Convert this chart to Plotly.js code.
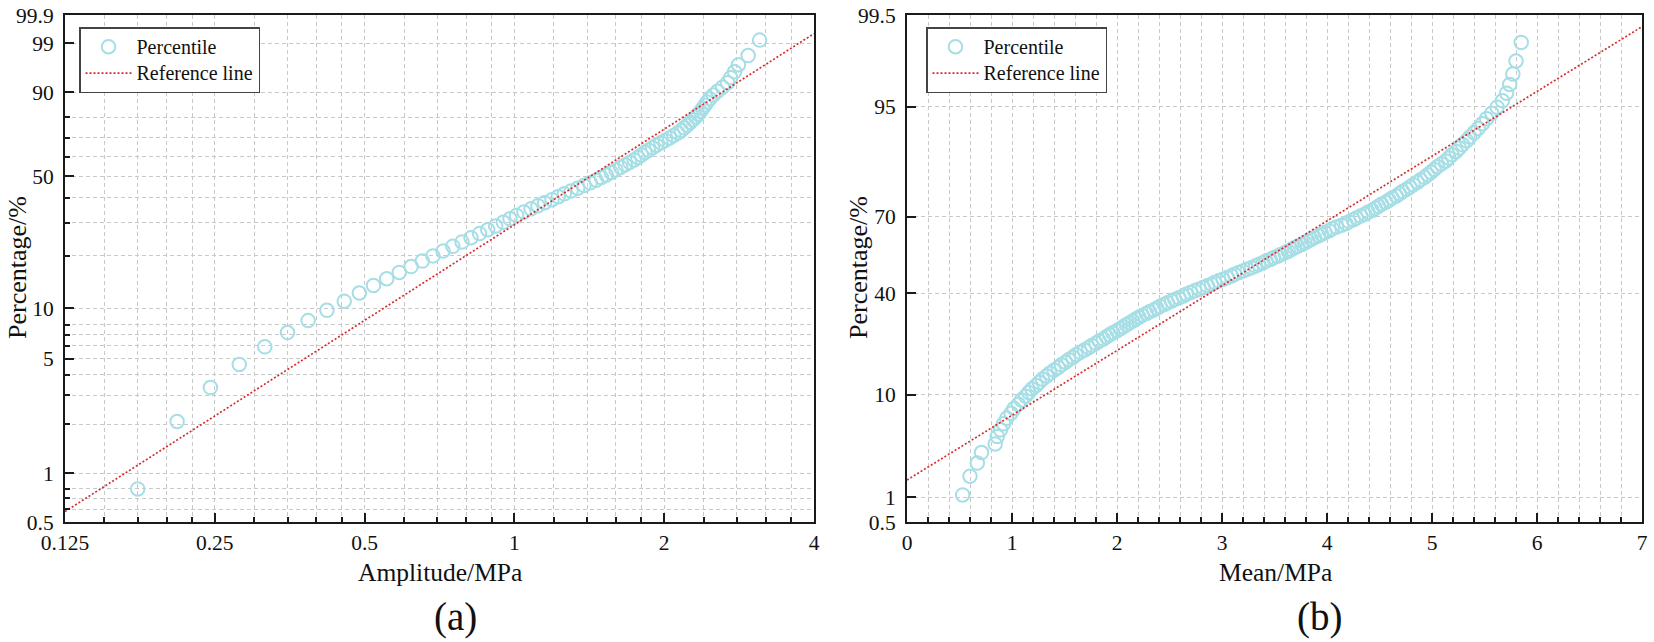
<!DOCTYPE html>
<html>
<head>
<meta charset="utf-8">
<script src="https://cdn.plot.ly/plotly-3.0.1.min.js"></script>
<style>
  html, body { margin: 0; padding: 0; background: #ffffff; font-family: 'Liberation Serif', serif; }
  #chart { width: 1654px; height: 642px; }
</style>
</head>
<body>
<div id="chart"></div>
<script>
// ---------------- data: panel (a) amplitude ----------------
const ampX = [0.175, 0.210, 0.245, 0.280, 0.315, 0.350, 0.385, 0.420, 0.455, 0.488,
  0.521, 0.554, 0.587, 0.620, 0.653, 0.686, 0.719, 0.752, 0.785, 0.818,
  0.851, 0.884, 0.917, 0.950, 0.980, 1.010, 1.045, 1.080, 1.115, 1.150,
  1.190, 1.225, 1.260, 1.300, 1.340, 1.380, 1.420, 1.460, 1.495, 1.530,
  1.565, 1.600, 1.635, 1.670, 1.705, 1.740, 1.770, 1.800, 1.830, 1.860,
  1.895, 1.930, 1.970, 2.010, 2.050, 2.090, 2.130, 2.165, 2.195, 2.225,
  2.255, 2.285, 2.315, 2.340, 2.365, 2.390, 2.415, 2.440, 2.470, 2.510,
  2.560, 2.620, 2.680, 2.720, 2.770, 2.820, 2.950, 3.110];
const ampP = [0.80, 2.08, 3.35, 4.63, 5.91, 7.19, 8.47, 9.74, 11.02, 12.30,
  13.58, 14.86, 16.13, 17.41, 18.69, 19.97, 21.25, 22.52, 23.80, 25.08,
  26.36, 27.64, 28.91, 30.19, 31.47, 32.75, 34.03, 35.30, 36.58, 37.86,
  39.14, 40.42, 41.69, 42.97, 44.25, 45.53, 46.81, 48.08, 49.36, 50.64,
  51.92, 53.19, 54.47, 55.75, 57.03, 58.31, 59.58, 60.86, 62.14, 63.42,
  64.70, 65.97, 67.25, 68.53, 69.81, 71.09, 72.36, 73.64, 74.92, 76.20,
  77.48, 78.75, 80.03, 81.31, 82.59, 83.87, 85.14, 86.42, 87.70, 88.98,
  90.26, 91.53, 92.81, 94.09, 95.37, 96.65, 97.92, 99.20];
const refAmpX = [0.125, 4];
const refAmpP = [0.58, 99.5];

// ---------------- data: panel (b) mean ----------------
const meanX = [0.53, 0.60, 0.67, 0.71, 0.84, 0.86, 0.89, 0.92, 0.95, 0.99,
  1.02, 1.06, 1.09, 1.13, 1.16, 1.19, 1.23, 1.26, 1.29, 1.33,
  1.36, 1.40, 1.44, 1.47, 1.51, 1.54, 1.58, 1.61, 1.65, 1.69,
  1.73, 1.76, 1.80, 1.83, 1.87, 1.90, 1.93, 1.96, 2.00, 2.03,
  2.06, 2.09, 2.12, 2.15, 2.18, 2.21, 2.24, 2.28, 2.31, 2.35,
  2.38, 2.41, 2.45, 2.48, 2.52, 2.55, 2.59, 2.63, 2.66, 2.70,
  2.74, 2.78, 2.82, 2.86, 2.90, 2.93, 2.97, 3.01, 3.05, 3.09,
  3.12, 3.16, 3.20, 3.24, 3.28, 3.32, 3.35, 3.39, 3.42, 3.46,
  3.49, 3.53, 3.56, 3.60, 3.63, 3.66, 3.69, 3.72, 3.76, 3.79,
  3.82, 3.85, 3.88, 3.92, 3.95, 3.98, 4.02, 4.05, 4.09, 4.14,
  4.18, 4.21, 4.25, 4.28, 4.32, 4.36, 4.39, 4.43, 4.46, 4.49,
  4.52, 4.56, 4.59, 4.62, 4.66, 4.69, 4.72, 4.76, 4.79, 4.82,
  4.86, 4.89, 4.93, 4.96, 4.99, 5.02, 5.05, 5.09, 5.13, 5.16,
  5.19, 5.23, 5.26, 5.29, 5.33, 5.36, 5.40, 5.44, 5.48, 5.52,
  5.57, 5.62, 5.67, 5.71, 5.74, 5.77, 5.80, 5.85];
const meanP = [1.07, 1.74, 2.40, 3.07, 3.73, 4.40, 5.06, 5.73, 6.40, 7.06,
  7.73, 8.39, 9.06, 9.72, 10.39, 11.06, 11.72, 12.39, 13.05, 13.72,
  14.38, 15.05, 15.71, 16.38, 17.05, 17.71, 18.38, 19.04, 19.71, 20.37,
  21.04, 21.71, 22.37, 23.04, 23.70, 24.37, 25.03, 25.70, 26.37, 27.03,
  27.70, 28.36, 29.03, 29.69, 30.36, 31.02, 31.69, 32.36, 33.02, 33.69,
  34.35, 35.02, 35.68, 36.35, 37.02, 37.68, 38.35, 39.01, 39.68, 40.34,
  41.01, 41.68, 42.34, 43.01, 43.67, 44.34, 45.00, 45.67, 46.33, 47.00,
  47.67, 48.33, 49.00, 49.66, 50.33, 50.99, 51.66, 52.33, 52.99, 53.66,
  54.32, 54.99, 55.65, 56.32, 56.99, 57.65, 58.32, 58.98, 59.65, 60.31,
  60.98, 61.64, 62.31, 62.98, 63.64, 64.31, 64.97, 65.64, 66.30, 66.97,
  67.64, 68.30, 68.97, 69.63, 70.30, 70.96, 71.63, 72.30, 72.96, 73.63,
  74.29, 74.96, 75.62, 76.29, 76.95, 77.62, 78.29, 78.95, 79.62, 80.28,
  80.95, 81.61, 82.28, 82.95, 83.61, 84.28, 84.94, 85.61, 86.27, 86.94,
  87.61, 88.27, 88.94, 89.60, 90.27, 90.93, 91.60, 92.26, 92.93, 93.60,
  94.26, 94.93, 95.59, 96.26, 96.92, 97.59, 98.25, 98.92];
const refMeanX = [0, 7];
const refMeanP = [1.58, 99.3];

// ---------------- ticks ----------------
const ampXTicks = [0.125, 0.25, 0.5, 1, 2, 4];
const ampXTickText = ['0.125', '0.25', '0.5', '1', '2', '4'];
const ampXMinor = [0.15, 0.175, 0.2, 0.225, 0.3, 0.35, 0.4, 0.45, 0.6, 0.7, 0.8, 0.9,
  1.2, 1.4, 1.6, 1.8, 2.4, 2.8, 3.2, 3.6];
const ampYTicks = [0.5, 1, 5, 10, 50, 90, 99, 99.9];
const ampYTickText = ['0.5', '1', '5', '10', '50', '90', '99', '99.9'];
const ampYMinor = [0.6, 0.7, 0.8, 2, 3, 4, 6, 7, 8, 20, 30, 40, 60, 70, 80];
const meanYTicks = [0.5, 1, 10, 40, 70, 95, 99.5];
const meanYTickText = ['0.5', '1', '10', '40', '70', '95', '99.5'];
const meanXTicks = [0, 1, 2, 3, 4, 5, 6, 7];

// ---------------- probability scale transforms ----------------
function weib(p) { return Math.log(-Math.log(1 - p / 100)); }
function normInv(pp) {
  const p = pp / 100;
  const a = [-3.969683028665376e+01, 2.209460984245205e+02, -2.759285104469687e+02, 1.383577518672690e+02, -3.066479806614716e+01, 2.506628277459239e+00];
  const b = [-5.447609879822406e+01, 1.615858368580409e+02, -1.556989798598866e+02, 6.680131188771972e+01, -1.328068155288572e+01];
  const c = [-7.784894002430293e-03, -3.223964580411365e-01, -2.400758277161838e+00, -2.549732518094239e+00, 4.374664141464968e+00, 2.938163982698783e+00];
  const d = [7.784695709041462e-03, 3.224671290700398e-01, 2.445134137142996e+00, 3.754408559630413e+00];
  const plow = 0.02425;
  let q, r;
  if (p < plow) {
    q = Math.sqrt(-2 * Math.log(p));
    return (((((c[0]*q+c[1])*q+c[2])*q+c[3])*q+c[4])*q+c[5]) / ((((d[0]*q+d[1])*q+d[2])*q+d[3])*q+1);
  } else if (p <= 1 - plow) {
    q = p - 0.5; r = q * q;
    return (((((a[0]*r+a[1])*r+a[2])*r+a[3])*r+a[4])*r+a[5])*q / (((((b[0]*r+b[1])*r+b[2])*r+b[3])*r+b[4])*r+1);
  } else {
    q = Math.sqrt(-2 * Math.log(1 - p));
    return -(((((c[0]*q+c[1])*q+c[2])*q+c[3])*q+c[4])*q+c[5]) / ((((d[0]*q+d[1])*q+d[2])*q+d[3])*q+1);
  }
}

// ---------------- styling ----------------
const FONT = 'Liberation Serif';
const W = 1654, H = 642;
const px = v => v / W;
const py = v => 1 - v / H;
const markerColor = 'rgb(166,222,230)';
const refColor = 'rgb(214,45,45)';
const gridColor = 'rgb(200,200,200)';
const legName = s => '<span style="font-size:20px">' + s + '</span>';

const traces = [
  { x: ampX, y: ampP.map(weib), xaxis: 'x', yaxis: 'y', type: 'scatter', mode: 'markers',
    name: legName('Percentile'), legend: 'legend',
    marker: { symbol: 'circle-open', size: 13.5, color: markerColor, line: { width: 2, color: markerColor } } },
  { x: refAmpX, y: refAmpP.map(weib), xaxis: 'x', yaxis: 'y', type: 'scatter', mode: 'lines',
    name: legName('Reference line'), legend: 'legend',
    line: { color: refColor, width: 1.7, dash: '2px,2px' } },
  { x: meanX, y: meanP.map(normInv), xaxis: 'x2', yaxis: 'y2', type: 'scatter', mode: 'markers',
    name: legName('Percentile'), legend: 'legend2',
    marker: { symbol: 'circle-open', size: 13.5, color: markerColor, line: { width: 2, color: markerColor } } },
  { x: refMeanX, y: refMeanP.map(normInv), xaxis: 'x2', yaxis: 'y2', type: 'scatter', mode: 'lines',
    name: legName('Reference line'), legend: 'legend2',
    line: { color: refColor, width: 1.7, dash: '2px,2px' } }
];

const axisBase = {
  showline: true, mirror: true, linecolor: '#1a1a1a', linewidth: 2,
  ticks: 'inside', ticklen: 9, tickwidth: 2, tickcolor: '#1a1a1a',
  showgrid: true, gridcolor: gridColor, gridwidth: 1, griddash: '4px,3px',
  zeroline: false, tickfont: { family: FONT, size: 21.5, color: '#111' },
  fixedrange: true
};

const layout = {
  width: W, height: H,
  margin: { l: 0, r: 0, t: 0, b: 0 },
  paper_bgcolor: '#ffffff', plot_bgcolor: '#ffffff',
  font: { family: FONT, color: '#111' },
  showlegend: true,
  xaxis: Object.assign({}, axisBase, {
    domain: [px(65), px(814)], anchor: 'y', type: 'log',
    range: [Math.log10(0.125), Math.log10(4)],
    tickmode: 'array', tickvals: ampXTicks, ticktext: ampXTickText,
    minor: { tickmode: 'array', tickvals: ampXMinor, ticks: 'inside', ticklen: 5, tickwidth: 2, tickcolor: '#1a1a1a',
             showgrid: true, gridcolor: gridColor, gridwidth: 1, griddash: '4px,3px' }
  }),
  yaxis: Object.assign({}, axisBase, {
    domain: [1 - 522 / H, 1 - 15 / H], anchor: 'x', ticklabelstandoff: 5,
    range: [weib(0.5), weib(99.9)],
    tickmode: 'array', tickvals: ampYTicks.map(weib), ticktext: ampYTickText,
    minor: { tickmode: 'array', tickvals: ampYMinor.map(weib), ticks: 'inside', ticklen: 5, tickwidth: 2, tickcolor: '#1a1a1a',
             showgrid: true, gridcolor: gridColor, gridwidth: 1, griddash: '4px,3px' }
  }),
  xaxis2: Object.assign({}, axisBase, {
    domain: [px(907), px(1642)], anchor: 'y2',
    range: [0, 7],
    tickmode: 'array', tickvals: meanXTicks, ticktext: meanXTicks.map(String),
    minor: { dtick: 0.2, ticks: 'inside', ticklen: 5, tickwidth: 2, tickcolor: '#1a1a1a',
             showgrid: true, gridcolor: gridColor, gridwidth: 1, griddash: '4px,3px' }
  }),
  yaxis2: Object.assign({}, axisBase, {
    domain: [1 - 522 / H, 1 - 15 / H], anchor: 'x2', ticklabelstandoff: 5,
    range: [normInv(0.5), normInv(99.5)],
    tickmode: 'array', tickvals: meanYTicks.map(normInv), ticktext: meanYTickText
  }),
  legend: {
    x: px(79), y: py(27), xanchor: 'left', yanchor: 'top',
    bgcolor: 'rgba(255,255,255,1)', bordercolor: '#444', borderwidth: 1.5,
    font: { family: FONT, size: 18, color: '#111' }, tracegroupgap: 0, itemwidth: 46
  },
  legend2: {
    x: px(926), y: py(27), xanchor: 'left', yanchor: 'top',
    bgcolor: 'rgba(255,255,255,1)', bordercolor: '#444', borderwidth: 1.5,
    font: { family: FONT, size: 18, color: '#111' }, tracegroupgap: 0, itemwidth: 46
  },
  annotations: [
    { text: 'Amplitude/MPa', xref: 'paper', yref: 'paper', x: px(440), y: py(572), xanchor: 'center', yanchor: 'middle',
      showarrow: false, font: { family: FONT, size: 25.5, color: '#111' } },
    { text: '(a)', xref: 'paper', yref: 'paper', x: px(455), y: py(617), xanchor: 'center', yanchor: 'middle',
      showarrow: false, font: { family: FONT, size: 39, color: '#111' } },
    { text: 'Mean/MPa', xref: 'paper', yref: 'paper', x: px(1275), y: py(572), xanchor: 'center', yanchor: 'middle',
      showarrow: false, font: { family: FONT, size: 25.5, color: '#111' } },
    { text: '(b)', xref: 'paper', yref: 'paper', x: px(1319), y: py(617), xanchor: 'center', yanchor: 'middle',
      showarrow: false, font: { family: FONT, size: 39, color: '#111' } },
    { text: 'Percentage/%', xref: 'paper', yref: 'paper', x: px(17), y: py(268), xanchor: 'center', yanchor: 'middle',
      textangle: -90, showarrow: false, font: { family: FONT, size: 26, color: '#111' } },
    { text: 'Percentage/%', xref: 'paper', yref: 'paper', x: px(858), y: py(268), xanchor: 'center', yanchor: 'middle',
      textangle: -90, showarrow: false, font: { family: FONT, size: 26, color: '#111' } }
  ]
};

Plotly.newPlot('chart', traces, layout, { displayModeBar: false, staticPlot: true });
</script>
</body>
</html>
